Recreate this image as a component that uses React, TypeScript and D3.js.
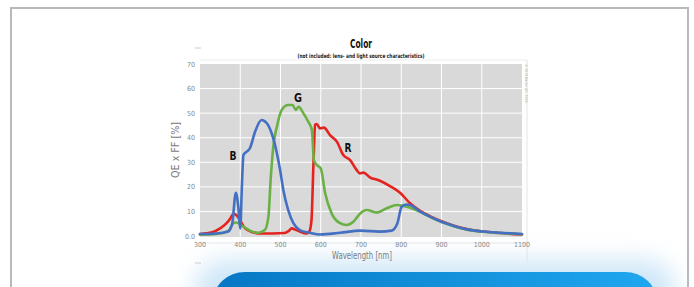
import React from 'react';
import * as d3 from 'd3';

const blueWl = [300, 340, 370, 380, 389, 395, 400, 404, 408, 424, 437, 453, 466, 478, 491, 499, 507, 519, 532, 548, 573, 598, 648, 698, 747, 776, 790, 801, 812, 822, 847, 871, 900, 929, 963, 1004, 1045, 1100];
const blueQe = [0.8, 1.0, 1.8, 5, 17.6, 12, 3, 20, 33, 35.7, 42.5, 47.2, 45.9, 41.8, 33.7, 26.9, 18.7, 10.6, 5.2, 2.4, 1.3, 0.6, 1.3, 2.2, 1.8, 2.2, 5, 11.9, 12.8, 12.6, 9.9, 7.9, 5.8, 4.2, 2.7, 1.8, 1.3, 0.8];

const redWl = [300, 330, 350, 366, 375, 383, 390, 398, 412, 432, 450, 480, 510, 520, 528, 538, 548, 565, 572, 577, 582, 586, 590, 598, 608, 623, 640, 656, 673, 689, 697, 706, 722, 747, 772, 797, 822, 847, 871, 900, 929, 963, 1004, 1045, 1100];
const redQe = [0.8, 1.5, 3.1, 5.2, 7, 9.0, 8.5, 6.8, 3.1, 1.5, 1.0, 1.0, 1.2, 2.0, 3.1, 2.5, 1.8, 1.0, 2, 6.5, 30, 45.2, 45.6, 43.8, 44.1, 41.1, 38.4, 33, 30.9, 26.9, 25.5, 25.8, 23.9, 22.5, 20.3, 17.6, 13.3, 10.2, 8.1, 6.0, 4.3, 2.8, 1.8, 1.2, 0.6];

const greenWl = [300, 340, 370, 383, 390, 408, 424, 445, 461, 470, 476, 482, 491, 503, 519, 530, 538, 545, 557, 569, 578, 583, 590, 600, 611, 627, 648, 664, 681, 698, 714, 739, 764, 789, 814, 847, 871, 900, 929, 963, 1004, 1045, 1100];
const greenQe = [0.5, 0.8, 2, 5.2, 5.5, 3.8, 2.2, 1.3, 2.4, 7.9, 24.1, 36.3, 44.5, 51.3, 53.3, 53.3, 51.3, 52.6, 49.9, 46.5, 43.1, 30.9, 28.9, 27.5, 17.4, 9.2, 5.2, 4.5, 5.8, 9.2, 10.6, 9.5, 11.3, 12.6, 11.9, 9.8, 7.8, 5.7, 4.1, 2.6, 1.7, 1.2, 0.7];

const xTicks = [300, 400, 500, 600, 700, 800, 900, 1000, 1100];
const yTicks = [0, 10, 20, 30, 40, 50, 60, 70];

const font = '"DejaVu Sans Condensed", "Liberation Sans Narrow", sans-serif';

export default function App() {
  const x = d3.scaleLinear().domain([300, 1100]).range([200, 522]);
  const y = d3.scaleLinear().domain([0, 70]).range([236, 64]);

  const line = d3.line<[number, number]>()
    .x(d => x(d[0]))
    .y(d => y(d[1]))
    .curve(d3.curveMonotoneX);

  const series = [
    { wl: redWl, qe: redQe, color: '#e4231f' },
    { wl: greenWl, qe: greenQe, color: '#6bb045' },
    { wl: blueWl, qe: blueQe, color: '#4370c3' },
  ];

  return (
    <svg width={694} height={287} style={{ position: 'absolute', left: 0, top: 0, background: '#fff' }}>
      <defs>
        <linearGradient id="panel" x1="0%" y1="0%" x2="100%" y2="0%">
          <stop offset="0%" stopColor="#0677c4" />
          <stop offset="100%" stopColor="#1fa7ef" />
        </linearGradient>
        <filter id="glow" x="-20%" y="-100%" width="140%" height="300%">
          <feGaussianBlur stdDeviation="12" />
        </filter>
      </defs>

      {/* outer frame */}
      <rect x={11} y={8} width={677} height={290} fill="#fff" stroke="#b9b9b9" strokeWidth={2} />

      {/* bottom panel with halo */}
      <rect x={195} y={260} width={480} height={60} rx={30} fill="#b3d9f3" opacity={0.65} filter="url(#glow)" />
      <rect x={213} y={272} width={444} height={60} rx={32} fill="url(#panel)" />

      {/* title */}
      <text x={361} y={48} textAnchor="middle" fontFamily={font} fontWeight="bold" fontSize={12.5} fill="#111"
        textLength={22} lengthAdjust="spacingAndGlyphs">Color</text>
      <text x={361} y={58} textAnchor="middle" fontFamily={font} fontWeight="bold" fontSize={6} fill="#222"
        textLength={127} lengthAdjust="spacingAndGlyphs">(not included: lens- and light source characteristics)</text>
      <line x1={195} x2={201} y1={48} y2={48} stroke="#ccc" />
      <line x1={195} x2={201} y1={263} y2={263} stroke="#ccc" />

      {/* frame lines around plot */}
      <line x1={200} x2={527} y1={60} y2={60} stroke="#ececec" />
      <line x1={527} x2={527} y1={60} y2={262} stroke="#e4e4e4" />
      <line x1={200} x2={527} y1={243} y2={243} stroke="#e6e6e6" />

      {/* plot area */}
      <rect x={200} y={64} width={322} height={173} fill="#d9d9d9" />
      {xTicks.slice(1, -1).map(t => (
        <line key={'gx' + t} x1={x(t)} x2={x(t)} y1={64} y2={237} stroke="#fff" strokeWidth={1} />
      ))}
      {yTicks.slice(1, -1).map(t => (
        <line key={'gy' + t} x1={200} x2={522} y1={y(t)} y2={y(t)} stroke="#fff" strokeWidth={1} />
      ))}

      {series.map((s, i) => (
        <path
          key={i}
          d={line(s.wl.map((w, j) => [w, s.qe[j]] as [number, number])) ?? ''}
          fill="none"
          stroke={s.color}
          strokeWidth={2.6}
          strokeLinejoin="round"
          strokeLinecap="round"
        />
      ))}

      {/* curve labels */}
      <text x={233} y={160} textAnchor="middle" fontFamily={font} fontWeight="bold" fontSize={13} fill="#111"
        textLength={7} lengthAdjust="spacingAndGlyphs">B</text>
      <text x={298} y={102} textAnchor="middle" fontFamily={font} fontWeight="bold" fontSize={13} fill="#111"
        textLength={8} lengthAdjust="spacingAndGlyphs">G</text>
      <text x={348} y={152} textAnchor="middle" fontFamily={font} fontWeight="bold" fontSize={13} fill="#111"
        textLength={7} lengthAdjust="spacingAndGlyphs">R</text>

      {/* axes */}
      {yTicks.map(t => (
        <text key={'ty' + t} x={195} y={y(t) + 2.5} textAnchor="end" fontFamily={font} fontSize={7} fill="#888">
          {t === 0 ? '0.0' : t}
        </text>
      ))}
      {xTicks.map(t => (
        <text key={'tx' + t} x={x(t)} y={246.5} textAnchor="middle" fontFamily={font} fontSize={7} fill="#888">
          {t}
        </text>
      ))}
      <text x={362} y={259} textAnchor="middle" fontFamily={font} fontSize={10} fill="#7a7a7a"
        textLength={60} lengthAdjust="spacingAndGlyphs">Wavelength [nm]</text>
      <text transform="translate(179,150) rotate(-90)" textAnchor="middle" fontFamily={font} fontSize={10} fill="#7a7a7a"
        textLength={56} lengthAdjust="spacingAndGlyphs">QE x FF [%]</text>
      <text transform="translate(525,64) rotate(90)" fontFamily={font} fontSize={3.5} fill="#aaa">© 2018 Basler AG, 2020</text>
    </svg>
  );
}
